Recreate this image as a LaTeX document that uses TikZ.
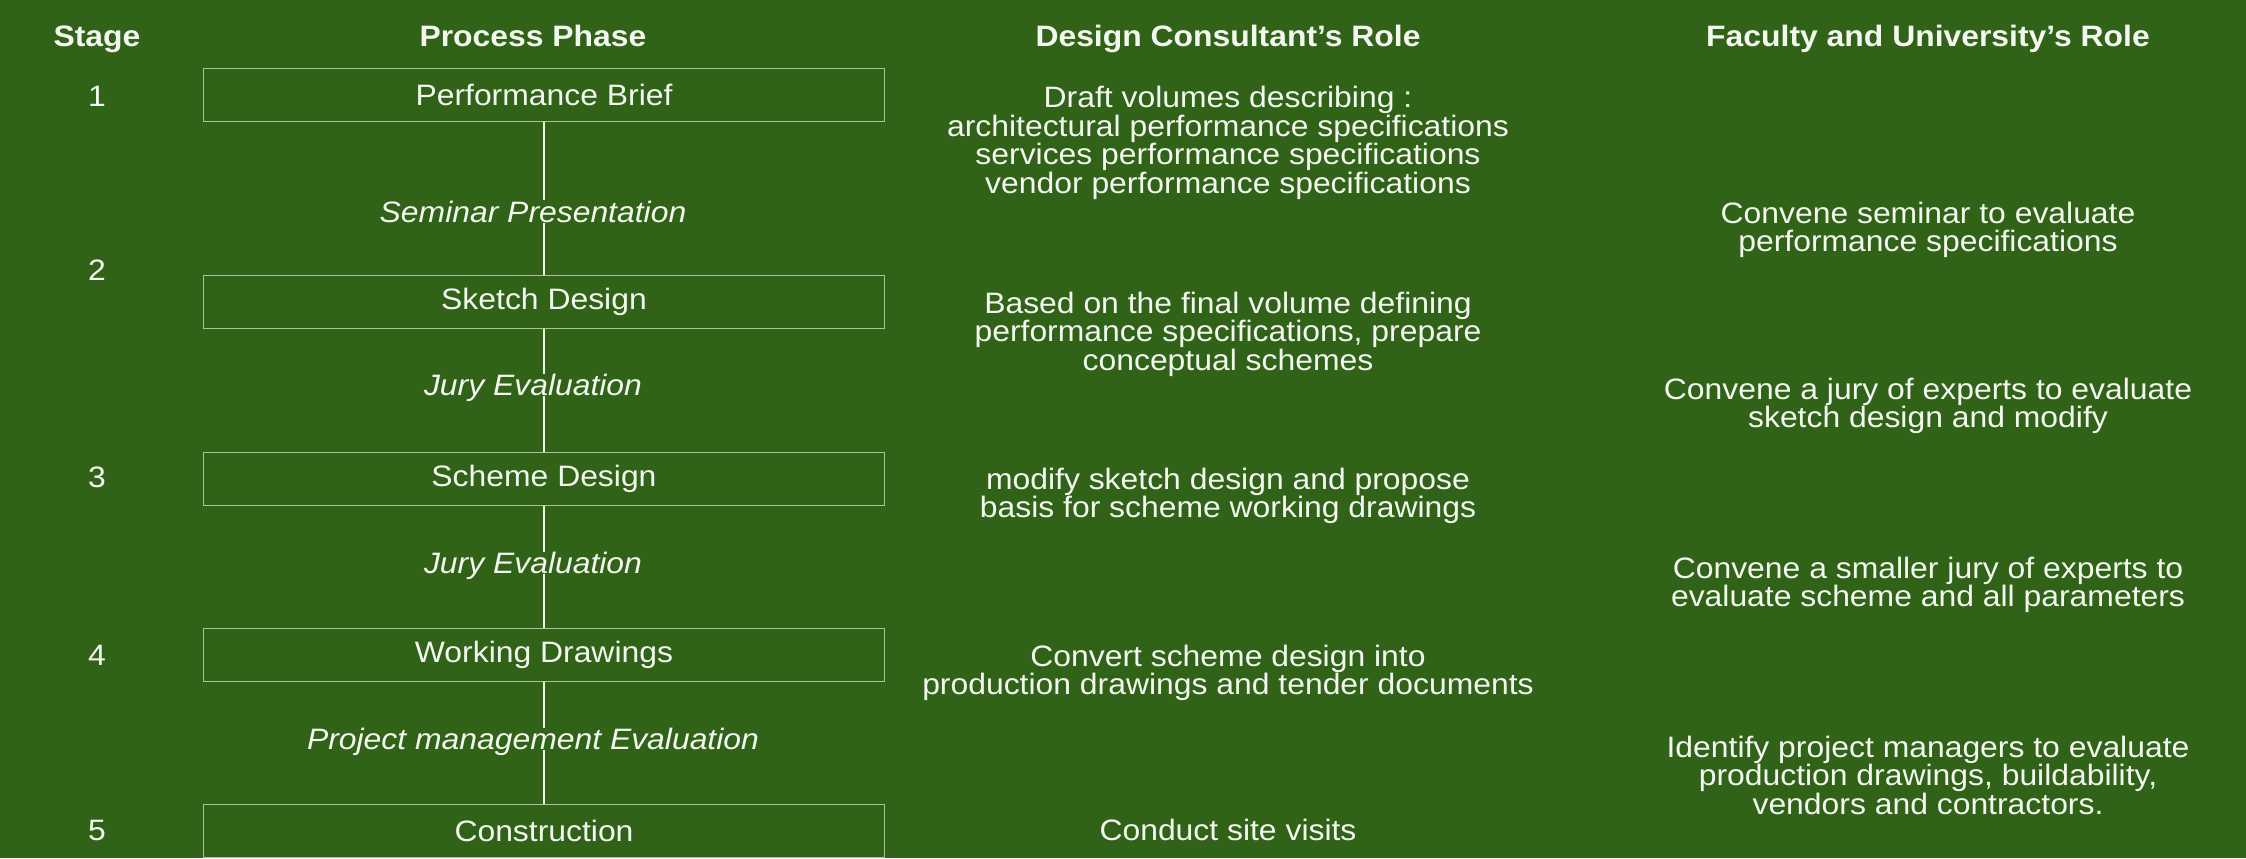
\documentclass[tikz,border=0pt]{standalone}
\usepackage{fontspec}
\setmainfont{Liberation Sans}[FakeStretch=1.08]
\usetikzlibrary{positioning}
\definecolor{boardgreen}{RGB}{48,99,24}
\definecolor{chalk}{RGB}{244,246,240}
\colorlet{frame}{chalk!65!boardgreen}

\begin{document}
\begin{tikzpicture}[x=0.1mm,y=-0.1mm,
  every node/.style={text=chalk,inner sep=0pt,align=center,font=\fontsize{8.4}{8.1}\selectfont},
  head/.style={anchor=base,font=\fontsize{8.4}{8.1}\selectfont\bfseries},
  phase/.style={draw=frame,line width=0.55pt,minimum width=6.81cm,minimum height=0.53cm},
  review/.style={font=\fontsize{8.4}{8.1}\selectfont\itshape},
  link/.style={draw=chalk,line width=0.6pt}]

\useasboundingbox (0,0) rectangle (2246,858);
\fill[boardgreen] (0,0) rectangle (2246,858);

% column headings
\node[head] (hstage) at (97,46) {Stage};
\node[head] (hphase) at (533,46) {Process Phase};
\node[head] (hdesign) at (1228,46) {Design Consultant’s Role};
\node[head] (hfaculty) at (1928,46) {Faculty and University’s Role};

% stages
\node (s1) at (97,96) {1};
\node (s2) at (97,270) {2};
\node (s3) at (97,477) {3};
\node (s4) at (97,655) {4};
\node (s5) at (97,830) {5};

% process phases
\node[phase] (brief) at (544,95) {Performance Brief};
\node[phase] (sketch) at (544,302) {Sketch Design};
\node[phase] (scheme) at (544,479) {Scheme Design};
\node[phase] (working) at (544,655) {Working Drawings};
\node[phase] (build) at (544,831) {Construction};

% reviews between phases
\node[review] (seminar) at (533,212) {Seminar Presentation};
\node[review] (jury1) at (533,388) {Jury Evaluation};
\node[review] (jury2) at (533,566) {Jury Evaluation};
\node[review] (pm) at (533,742) {Project management Evaluation};

\draw[link] (brief) -- (brief |- seminar.north);
\draw[link] (brief |- seminar.base) -- (sketch);
\draw[link] (sketch) -- (sketch |- jury1.north);
\draw[link] (sketch |- jury1.base) -- (scheme);
\draw[link] (scheme) -- (scheme |- jury2.north);
\draw[link] (scheme |- jury2.base) -- (working);
\draw[link] (working) -- (working |- pm.north);
\draw[link] (working |- pm.base) -- (build);

% design consultant
\node (d1) at (1228,143) {Draft volumes describing :\\architectural performance specifications\\services performance specifications\\vendor performance specifications};
\node (d2) at (1228,334) {Based on the final volume defining\\performance specifications, prepare\\conceptual schemes};
\node (d3) at (1228,496) {modify sketch design and propose\\basis for scheme working drawings};
\node (d4) at (1228,673) {Convert scheme design into\\production drawings and tender documents};
\node (d5) at (1228,830) {Conduct site visits};

% faculty and university
\node (f1) at (1928,230) {Convene seminar to evaluate\\performance specifications};
\node (f2) at (1928,406) {Convene a jury of experts to evaluate\\sketch design and modify};
\node (f3) at (1928,585) {Convene a smaller jury of experts to\\evaluate scheme and all parameters};
\node (f4) at (1928,775) {Identify project managers to evaluate\\production drawings, buildability,\\vendors and contractors.};
\end{tikzpicture}
\end{document}
